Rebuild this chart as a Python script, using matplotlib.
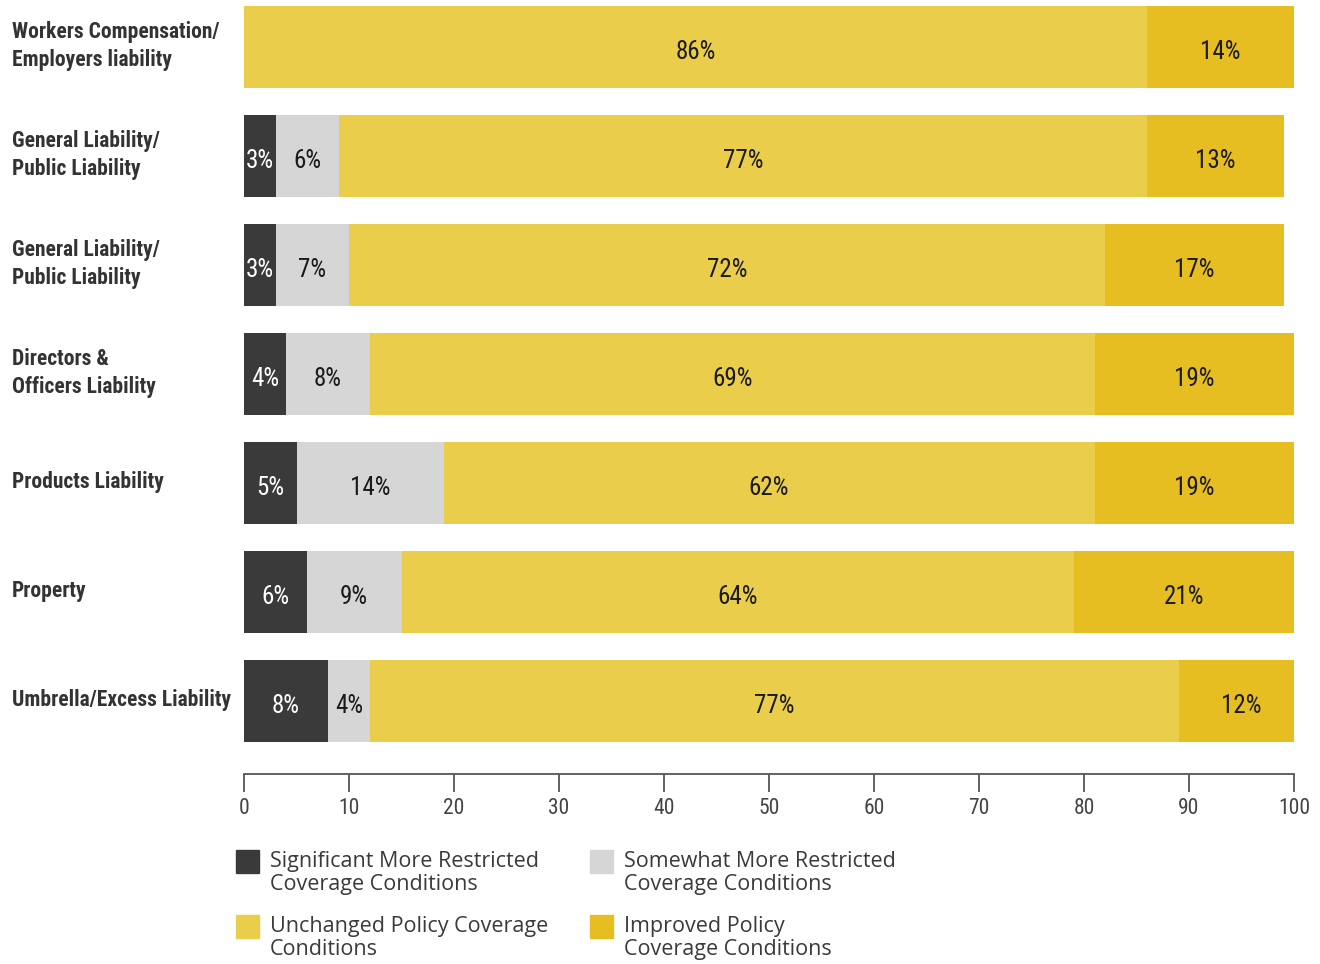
import numpy as np
import matplotlib
matplotlib.use("Agg")
import matplotlib.pyplot as plt
from matplotlib.patches import Rectangle
from matplotlib import font_manager

installed = {f.name for f in font_manager.fontManager.ttflist}
narrow = next((f for f in ['Roboto Condensed', 'Open Sans Condensed', 'Liberation Sans Narrow',
                            'Noto Sans Condensed', 'Arial Narrow', 'Roboto', 'Lato']
               if f in installed), 'DejaVu Sans')
plt.rcParams['font.family'] = [narrow, 'DejaVu Sans']

categories = ["Workers Compensation/\nEmployers liability",
              "General Liability/\nPublic Liability",
              "General Liability/\nPublic Liability",
              "Directors &\nOfficers Liability",
              "Products Liability",
              "Property",
              "Umbrella/Excess Liability"]
significant = [0, 3, 3, 4, 5, 6, 8]
somewhat = [0, 6, 7, 8, 14, 9, 4]
unchanged = [86, 77, 72, 69, 62, 64, 77]
improved = [14, 13, 17, 19, 19, 21, 12]

series_names = ["Significant More Restricted\nCoverage Conditions",
                "Somewhat More Restricted\nCoverage Conditions",
                "Unchanged Policy Coverage\nConditions",
                "Improved Policy\nCoverage Conditions"]
colors = ["#3a3a3a", "#d6d6d6", "#eacd4b", "#e6be22"]
text_colors = ["white", "#1a1a1a", "#1a1a1a", "#1a1a1a"]

fig = plt.figure(figsize=(13.2, 9.64), dpi=100)
ax = fig.add_axes([244/1320, 1 - 774/964, 1050/1320, 774/964])

y = np.arange(len(categories))
left = np.zeros(len(categories))
for vals, col, tcol in zip([significant, somewhat, unchanged, improved], colors, text_colors):
    vals = np.array(vals, dtype=float)
    ax.barh(y, vals, left=left, height=0.75, color=col, edgecolor='none')
    for yi, (l, v) in enumerate(zip(left, vals)):
        if v > 0:
            ax.text(l + v / 2, yi + 0.05, f"{int(v)}%", ha='center', va='center',
                    fontsize=18, color=tcol)
    left += vals

ax.set_xlim(0, 100)
ax.set_ylim(6.67, -0.431)
ax.set_yticks([])
for s in ['top', 'right', 'left']:
    ax.spines[s].set_visible(False)
ax.spines['bottom'].set_color('#555555')
ax.spines['bottom'].set_linewidth(1.3)
ax.set_xticks(np.arange(0, 101, 10))
ax.tick_params(axis='x', direction='out', length=13, width=1.3, color='#555555',
               labelsize=15.5, labelcolor='#444444', pad=4)

for yi, cat in enumerate(categories):
    fig_y = 1 - (46 + 109 * yi) / 964
    fig.text(12 / 1320, fig_y, cat, ha='left', va='center', fontsize=15.5,
             fontweight='bold', color='#333333', linespacing=1.32)

# legend
leg_pos = [(236, 850), (590, 850), (236, 915), (590, 915)]
for (px, py), name, col in zip(leg_pos, series_names, colors):
    fig.add_artist(Rectangle((px / 1320, 1 - (py + 23) / 964), 23 / 1320, 23 / 964,
                             transform=fig.transFigure, color=col))
    fig.text((px + 34) / 1320, 1 - (py + 1) / 964, name, ha='left', va='top',
             fontsize=15.5, color='#3a3a3a', linespacing=1.15,
             family=['Open Sans', 'DejaVu Sans'])

fig.savefig("out.png", dpi=100)
